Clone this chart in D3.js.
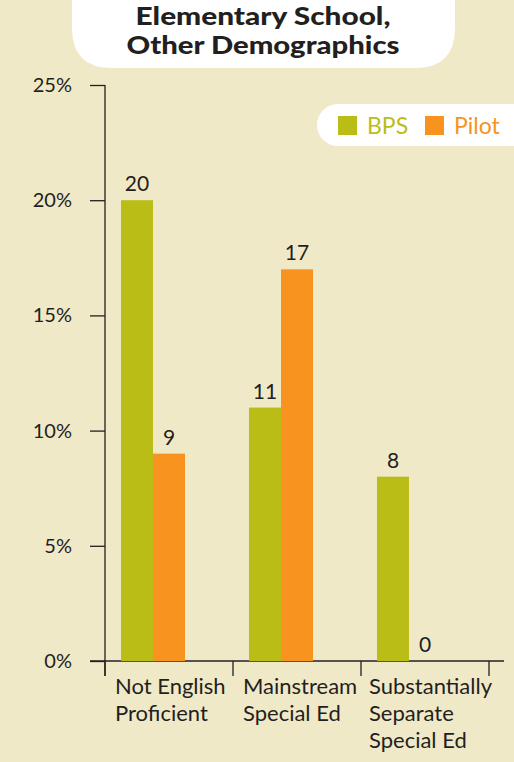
<!DOCTYPE html>
<html><head><meta charset="utf-8">
<script src="https://cdn.jsdelivr.net/npm/d3@7"></script>
<style>
html,body{margin:0;padding:0;background:#F0E9C8;}
svg{display:block;}
text{font-family:Lato,"Open Sans",sans-serif;}
</style></head>
<body>
<svg id="chart" width="514" height="762"></svg>
<script>
const categories = [["Not English","Proficient"],["Mainstream","Special Ed"],["Substantially","Separate","Special Ed"]];
const seriesNames = ["BPS","Pilot"];
const bpsValues = [20, 11, 8];
const pilotValues = [9, 17, 0];
const yTicks = [0, 5, 10, 15, 20, 25];
const titleLines = ["Elementary School,","Other Demographics"];
const colors = {BPS:"#BBBD17", Pilot:"#F7931E"};

const svg = d3.select("#chart");
const W = 514, H = 762;
svg.append("rect").attr("width",W).attr("height",H).attr("fill","#F0E9C8");

// title box
const tb = {x0:72, x1:455, y1:68, r:40};
svg.append("path")
  .attr("d",`M${tb.x0},-10 L${tb.x0},${tb.y1-tb.r} Q${tb.x0},${tb.y1} ${tb.x0+tb.r},${tb.y1} L${tb.x1-tb.r},${tb.y1} Q${tb.x1},${tb.y1} ${tb.x1},${tb.y1-tb.r} L${tb.x1},-10 Z`)
  .attr("fill","#fff");
const titleWidths = [255, 273];
svg.selectAll("text.title").data(titleLines).enter().append("text")
  .attr("x",263).attr("y",(d,i)=>25+i*29)
  .attr("text-anchor","middle").attr("font-weight",900).attr("font-size",24)
  .attr("textLength",(d,i)=>titleWidths[i]).attr("lengthAdjust","spacingAndGlyphs")
  .attr("fill","#231F20").text(d=>d);

const x = d3.scaleBand().domain(d3.range(categories.length)).range([105,489]);
const y = d3.scaleLinear().domain([0,25]).range([661,85]);
const sub = d3.scaleBand().domain(seriesNames).range([16,80]);

// y axis
const yAxis = d3.axisLeft(y).tickValues(yTicks).tickFormat(d=>d+"%").tickSize(15).tickPadding(18);
const gy = svg.append("g").attr("transform","translate(105,0)").call(yAxis);
gy.select(".domain").attr("d","M0,85 V676").attr("stroke","#231F20").attr("stroke-width",1.3);
gy.selectAll(".tick line").attr("stroke","#231F20").attr("stroke-width",1.3);
gy.selectAll(".tick text").attr("font-size",20).attr("fill","#231F20").attr("font-family","Lato,sans-serif");

// x axis
svg.append("line").attr("x1",90).attr("x2",504).attr("y1",661).attr("y2",661).attr("stroke","#231F20").attr("stroke-width",1.3);
const bounds = x.domain().map(d=>x(d)+x.bandwidth()).concat([x(0)]);
svg.selectAll("line.xt").data(bounds).enter().append("line")
  .attr("x1",d=>d).attr("x2",d=>d).attr("y1",661).attr("y2",676)
  .attr("stroke","#231F20").attr("stroke-width",1.3);

const data = categories.map((c,i)=>({i, vals:[{s:"BPS",v:bpsValues[i]},{s:"Pilot",v:pilotValues[i]}]}));
const g = svg.selectAll("g.grp").data(data).enter().append("g").attr("transform",d=>`translate(${x(d.i)},0)`);
g.selectAll("rect").data(d=>d.vals).enter().append("rect")
  .attr("x",d=>sub(d.s)).attr("width",sub.bandwidth())
  .attr("y",d=>y(d.v)).attr("height",d=>y(0)-y(d.v))
  .attr("fill",d=>colors[d.s]);
g.selectAll("text.val").data(d=>d.vals).enter().append("text")
  .attr("x",d=>sub(d.s)+sub.bandwidth()/2).attr("y",d=>y(d.v)-9)
  .attr("text-anchor","middle").attr("font-size",21).attr("fill","#231F20").text(d=>d.v);

// category labels
categories.forEach((lines,i)=>{
  const t = svg.append("text").attr("x",x(i)+10).attr("y",694).attr("font-size",22).attr("fill","#231F20");
  lines.forEach((l,j)=>t.append("tspan").attr("x",x(i)+10+(i===2?-2:0)).attr("y",694+j*27).text(l));
});

// legend
svg.append("rect").attr("x",317).attr("y",104).attr("width",230).attr("height",42).attr("rx",21).attr("fill","#fff");
const leg = [{s:"BPS",x:338},{s:"Pilot",x:425}];
leg.forEach(l=>{
  svg.append("rect").attr("x",l.x).attr("y",116).attr("width",19).attr("height",19).attr("fill",colors[l.s]);
  svg.append("text").attr("x",l.x+29).attr("y",134).attr("font-size",23).attr("fill",colors[l.s]).text(l.s);
});
</script>
</body></html>
